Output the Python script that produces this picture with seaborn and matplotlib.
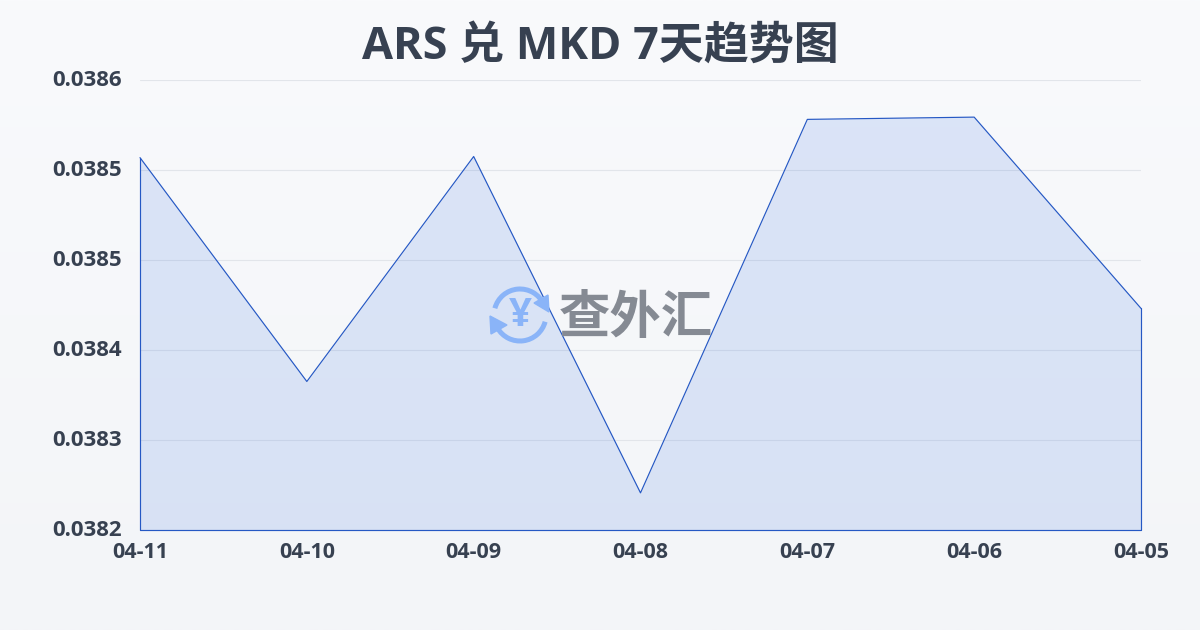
# ARS / MKD 7 day trend
import numpy as np
import pandas as pd
import matplotlib
matplotlib.use('Agg')
import matplotlib.pyplot as plt
from matplotlib.patches import Arc, Polygon
from matplotlib.transforms import ScaledTranslation
import seaborn as sns

dates = ['04-11', '04-10', '04-09', '04-08', '04-07', '04-06', '04-05']
rates = [0.038531, 0.038332, 0.038532, 0.038233, 0.038565, 0.038567, 0.038397]
y_ticks = [0.0382, 0.03828, 0.03836, 0.03844, 0.03852, 0.0386]
y_labels = ['0.0382', '0.0383', '0.0384', '0.0385', '0.0385', '0.0386']
title = 'ARS 兑 MKD 7天趋势图'

sns.set_style('white')
plt.rcParams['font.family'] = ['Open Sans', 'Noto Sans CJK SC', 'DejaVu Sans']

W, H = 1200, 630
DARK = '#374151'
LINE = '#2558c4'
ICON = '#8ab4f8'

fig = plt.figure(figsize=(12, 6.3), dpi=100)

# background gradient
bg = fig.add_axes([0, 0, 1, 1], zorder=0)
top, bottom = np.array([249, 250, 252]) / 255, np.array([243, 245, 248]) / 255
grad = np.linspace(0, 1, 256)[:, None, None] * (bottom - top) + top
bg.imshow(grad, aspect='auto', extent=[0, W, H, 0])
bg.axis('off')

ax = fig.add_axes([140 / W, 1 - 530 / H, 1001 / W, 450 / H], zorder=1)
ax.patch.set_alpha(0)

df = pd.DataFrame({'date': dates, 'rate': rates})
sns.lineplot(data=df, x='date', y='rate', sort=False, color=LINE, linewidth=0.85,
             errorbar=None, ax=ax, zorder=4, clip_on=False)
ax.fill_between(range(len(dates)), rates, y_ticks[0], facecolor='#2f6ae0', alpha=0.14,
                linewidth=0, zorder=3)
# left, bottom and right edges of the area
ax.plot([0, 0, len(dates) - 1, len(dates) - 1], [rates[0], y_ticks[0], y_ticks[0], rates[-1]],
        color=LINE, linewidth=0.85, zorder=4, clip_on=False)

ax.set_xlim(0, len(dates) - 1)
ax.set_ylim(y_ticks[0], y_ticks[-1])
ax.set_yticks(y_ticks)
ax.set_yticklabels(y_labels, fontsize=16, fontweight='bold', color=DARK)
ax.set_xticks(range(len(dates)))
ax.set_xticklabels(dates, fontsize=15.5, fontweight='bold', color=DARK)
ax.tick_params(axis='y', length=0, pad=13)
ax.tick_params(axis='x', length=5, color='#eceef1', width=0.8, pad=4)
# reference labels sit a little above their grid lines
up = ScaledTranslation(0, 1.5 / 72, fig.dpi_scale_trans)
for lab in ax.get_yticklabels():
    lab.set_transform(lab.get_transform() + up)
ax.set_xlabel('')
ax.set_ylabel('')
ax.yaxis.grid(True, color='#e2e5ea', linewidth=0.8)
ax.xaxis.grid(False)
ax.set_axisbelow(True)
sns.despine(ax=ax, left=True, bottom=True)

fig.text(600 / W, 1 - 47 / H, title, ha='center', va='center', fontsize=32.4,
         fontweight='bold', color=DARK)

# watermark, drawn in pixel coordinates
wm = fig.add_axes([0, 0, 1, 1], zorder=2)
wm.set_xlim(0, W)
wm.set_ylim(H, 0)
wm.axis('off')
wm.patch.set_alpha(0)
wm.add_patch(Arc((520, 315), 52, 52, theta1=195, theta2=335, color=ICON, lw=3.6))
wm.add_patch(Arc((520, 315), 52, 52, theta1=15, theta2=150, color=ICON, lw=3.6))
wm.add_patch(Polygon([[534, 303], [548, 295], [549, 312]], color=ICON))
wm.add_patch(Polygon([[490, 316], [507, 325], [491, 334]], color=ICON))
wm.text(520, 316, '¥', ha='center', va='center', fontsize=29, fontweight='bold', color=ICON)
wm.text(636, 320.5, '查外汇', ha='center', va='center', fontsize=37, fontweight='bold',
        color='#858a93')

fig.savefig('out.png', dpi=100)
